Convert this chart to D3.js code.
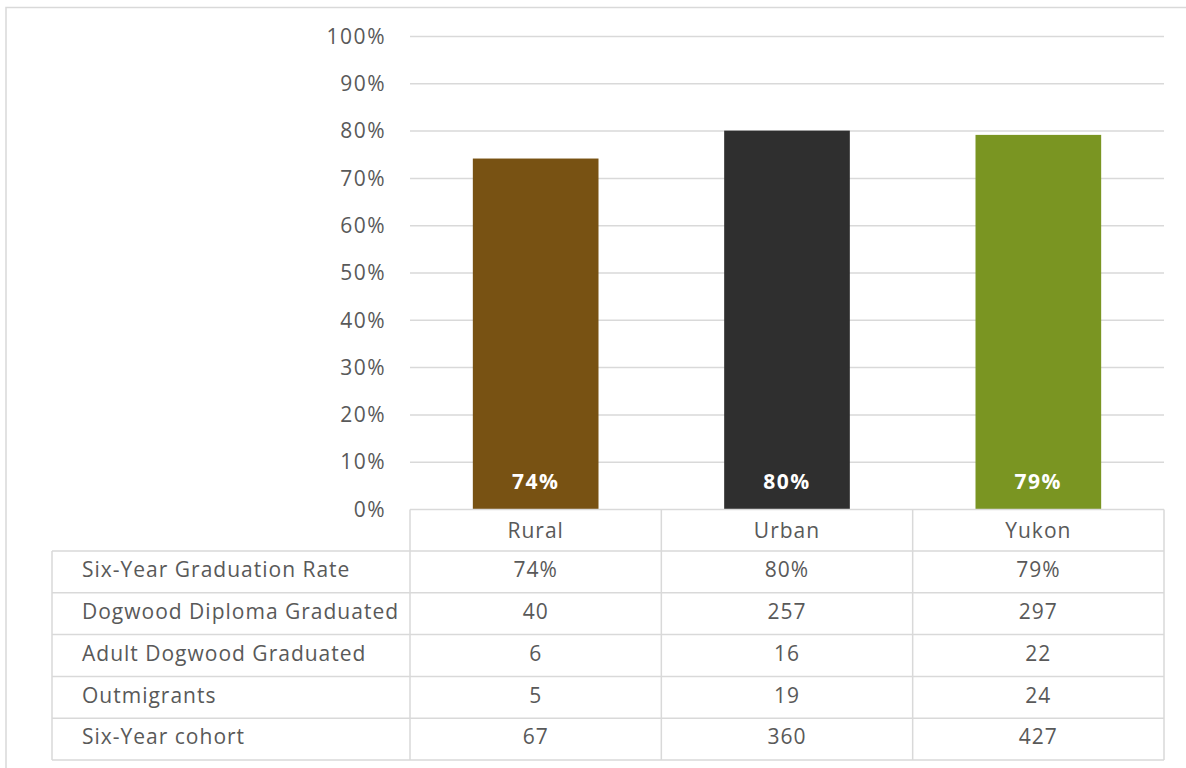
<!DOCTYPE html>
<html><head><meta charset="utf-8">
<script src="https://cdn.jsdelivr.net/npm/d3@7"></script>
<style>
html,body{margin:0;padding:0;background:#fff;}
svg{display:block;}
text{font-family:"Open Sans","Noto Sans",sans-serif;letter-spacing:1px;}
</style></head>
<body>
<svg id="chart" width="1186" height="768"></svg>
<script>
const categories = ["Rural", "Urban", "Yukon"];
const gradRate = [0.742, 0.801, 0.792];
const barColors = ["#785213", "#2f2f2f", "#7a9522"];
const yTicks = [0, 0.1, 0.2, 0.3, 0.4, 0.5, 0.6, 0.7, 0.8, 0.9, 1.0];
const rowLabels = ["Six-Year Graduation Rate", "Dogwood Diploma Graduated", "Adult Dogwood Graduated", "Outmigrants", "Six-Year cohort"];
const rowRate = ["74%", "80%", "79%"];
const rowDiploma = [40, 257, 297];
const rowAdult = [6, 16, 22];
const rowOut = [5, 19, 24];
const rowCohort = [67, 360, 427];
const tableRows = [rowRate, rowDiploma, rowAdult, rowOut, rowCohort];

(function () {
const svg = d3.select("#chart");
const gridCol = "#d9d9d9", textCol = "#595959";
const pLeft = 410, pRight = 1164, pTop = 36.5, pBase = 509.5;
const fs = "21px";

svg.append("path").attr("d", "M6,770 L6,7.5 L1190,7.5")
  .attr("fill", "none").attr("stroke", gridCol).attr("stroke-width", 1.5);

const x = d3.scaleBand().domain(categories).range([pLeft, pRight]).paddingInner(0).paddingOuter(0);
const y = d3.scaleLinear().domain([0, 1]).range([pBase, pTop]);

svg.append("g").selectAll("line").data(yTicks.filter(d => d > 0)).join("line")
  .attr("x1", pLeft).attr("x2", pRight)
  .attr("y1", d => y(d)).attr("y2", d => y(d))
  .attr("stroke", gridCol).attr("stroke-width", 1.5);

const yAxis = d3.axisLeft(y).tickValues(yTicks).tickFormat(d3.format(".0%")).tickSize(0).tickPadding(24);
const gy = svg.append("g").attr("transform", `translate(${pLeft},0)`).call(yAxis);
gy.select(".domain").remove();
gy.selectAll("text").attr("fill", textCol).style("font-size", fs)
  .style("font-family", '"Open Sans","Noto Sans",sans-serif').style("letter-spacing", "1.5px");

const bw = x.bandwidth() * 0.5;
svg.append("g").selectAll("rect").data(categories).join("rect")
  .attr("x", d => x(d) + (x.bandwidth() - bw) / 2)
  .attr("width", bw)
  .attr("y", (d, i) => y(gradRate[i]))
  .attr("height", (d, i) => y(0) - y(gradRate[i]))
  .attr("fill", (d, i) => barColors[i]);

svg.append("g").selectAll("text").data(categories).join("text")
  .attr("x", d => x(d) + x.bandwidth() / 2)
  .attr("y", 489)
  .attr("text-anchor", "middle")
  .attr("fill", "#fff").style("font-size", fs).style("font-weight", "bold").style("letter-spacing", "1.5px")
  .text((d, i) => d3.format(".0%")(gradRate[i]));

const rowH = 41.8;
const headTop = pBase, headBot = 551;
const tableLeft = 52;
const g = svg.append("g");
const lineAttr = sel => sel.attr("stroke", gridCol).attr("stroke-width", 1.5).attr("fill", "none");
g.append("line").attr("x1", pLeft).attr("x2", pRight).attr("y1", pBase).attr("y2", pBase).call(lineAttr);
const hLines = d3.range(tableRows.length + 1).map(i => headBot + i * rowH);
g.selectAll("line.h").data(hLines).join("line").attr("class", "h")
  .attr("x1", tableLeft).attr("x2", pRight).attr("y1", d => d).attr("y2", d => d).call(lineAttr);
const tableBottom = headBot + tableRows.length * rowH;
g.append("line").attr("x1", tableLeft).attr("x2", tableLeft).attr("y1", headBot).attr("y2", tableBottom).call(lineAttr);
const vx = categories.map(c => x(c)).concat([pRight]);
g.selectAll("line.v").data(vx).join("line").attr("class", "v")
  .attr("x1", d => d).attr("x2", d => d).attr("y1", pBase).attr("y2", tableBottom).call(lineAttr);
g.selectAll("text.hd").data(categories).join("text").attr("class", "hd")
  .attr("x", d => x(d) + x.bandwidth() / 2).attr("y", (headTop + headBot) / 2)
  .attr("dy", "0.35em").attr("text-anchor", "middle")
  .attr("fill", textCol).style("font-size", fs).text(d => d);
g.selectAll("text.rl").data(rowLabels).join("text").attr("class", "rl")
  .attr("x", 82).attr("y", (d, i) => headBot + i * rowH + rowH / 2 - 2)
  .attr("dy", "0.35em").attr("fill", textCol).style("font-size", fs).text(d => d);
tableRows.forEach((row, r) => {
  g.selectAll("text.c" + r).data(row).join("text").attr("class", "c" + r)
    .attr("x", (d, i) => x(categories[i]) + x.bandwidth() / 2)
    .attr("y", headBot + r * rowH + rowH / 2 - 2)
    .attr("dy", "0.35em").attr("text-anchor", "middle")
    .attr("fill", textCol).style("font-size", fs).text(d => d);
});
})();
</script>
</body></html>
